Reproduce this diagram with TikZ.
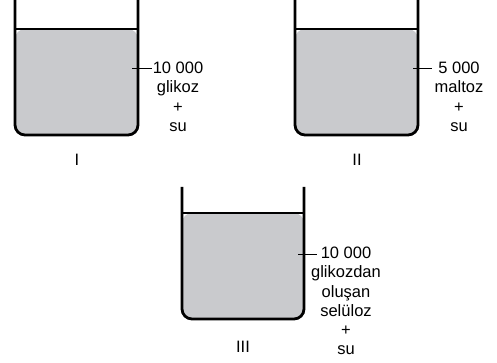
\documentclass[tikz,border=0pt]{standalone}
\usepackage{fontspec}
\setmainfont{Liberation Sans}
\definecolor{liquid}{RGB}{201,202,205}
\begin{document}
\begin{tikzpicture}[x=1pt,y=-1pt,
  wall/.style={line width=2.8pt, rounded corners=10pt},
  liq/.style={fill=liquid, rounded corners=10pt},
  surf/.style={line width=1.6pt},
  tick/.style={line width=1pt},
  lbl/.style={font=\fontsize{16.5}{19.2}\selectfont, align=center, inner sep=0pt, anchor=north},
  num/.style={font=\fontsize{16.5}{19.2}\selectfont, inner sep=0pt, anchor=base}]
\useasboundingbox (0,0) rectangle (497,363);
% Beaker I
\fill[liq] (15,29) -- (15,135) -- (138,135) -- (138,29) -- cycle;
\draw[surf] (15,29) -- (138,29);
\draw[wall] (15,-3) -- (15,135) -- (138,135) -- (138,-3);
% Beaker II
\fill[liq] (295,29) -- (295,135) -- (418,135) -- (418,29) -- cycle;
\draw[surf] (295,29) -- (418,29);
\draw[wall] (295,-3) -- (295,135) -- (418,135) -- (418,-3);
% Beaker III
\fill[liq] (182,213) -- (182,319) -- (304,319) -- (304,213) -- cycle;
\draw[surf] (182,213) -- (304,213);
\draw[wall] (182,187) -- (182,319) -- (304,319) -- (304,187);
% texts
\node[lbl] (t1) at (178,62) {10 000\\glikoz\\+\\su};
\node[lbl] (t2) at (459,62) {5 000\\maltoz\\+\\su};
\node[lbl] (t3) at (346,247) {10 000\\glikozdan\\oluşan\\selüloz\\+\\su};
\node[num] (n1) at (77,166) {I};
\node[num] (n2) at (357,166) {II};
\node[num] (n3) at (243,352) {III};
% ticks
\coordinate (a1) at (132,69); \coordinate (b1) at (152,69);
\coordinate (a2) at (413,69); \coordinate (b2) at (432,69);
\coordinate (a3) at (298,254); \coordinate (b3) at (317,254);
\draw[tick] (a1) -- (b1);
\draw[tick] (a2) -- (b2);
\draw[tick] (a3) -- (b3);
\end{tikzpicture}
\end{document}
